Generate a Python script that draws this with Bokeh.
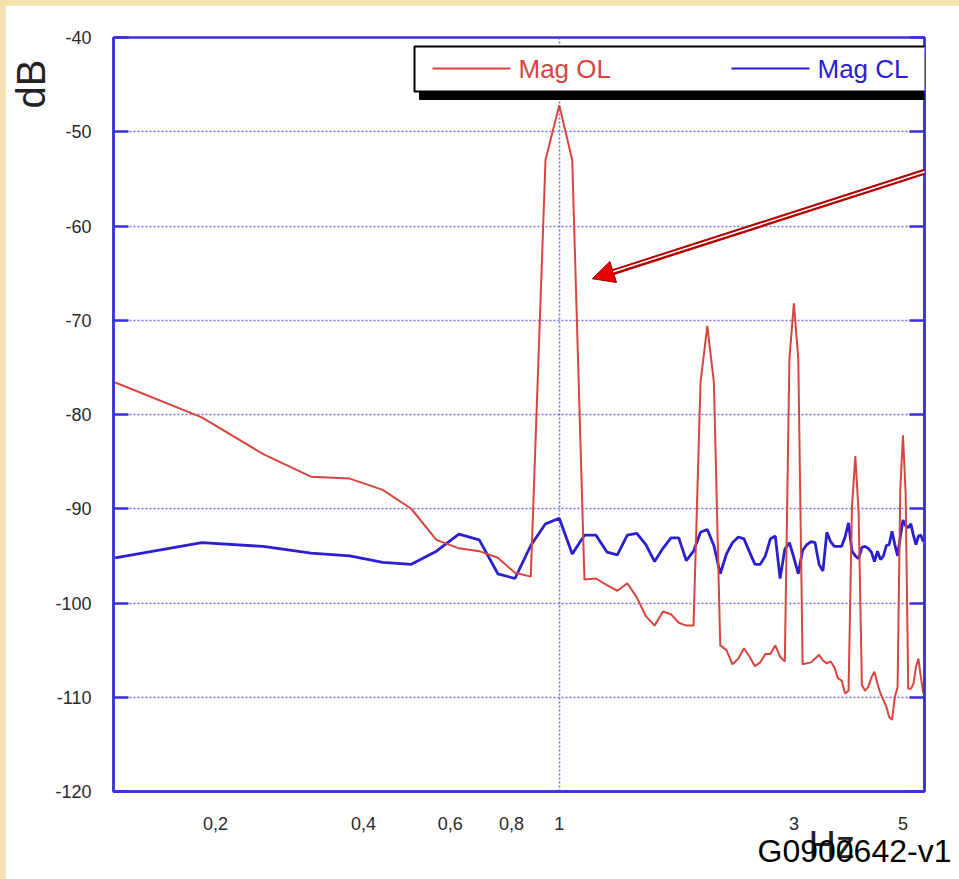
from bokeh.plotting import figure
from bokeh.models import (Range1d, FixedTicker, LinearAxis, CustomJSTickFormatter,
                          Label, BoxAnnotation, Arrow, NormalHead, Title)
from bokeh.embed import file_html
from bokeh.resources import INLINE

# ---------------- data ----------------
freq_hz = [0.125, 0.1875, 0.25, 0.3125, 0.375, 0.4375, 0.5, 0.5625, 0.625, 0.6875,
           0.75, 0.8125, 0.875, 0.9375, 1.0, 1.0625, 1.125, 1.1875, 1.25, 1.3125,
           1.375, 1.4375, 1.5, 1.5625, 1.625, 1.6875, 1.75, 1.8125, 1.875, 1.9375,
           2.0, 2.0625, 2.125, 2.1875, 2.25, 2.3125, 2.375, 2.4375, 2.5, 2.5625,
           2.625, 2.6875, 2.75, 2.8125, 2.875, 2.9375, 3.0, 3.0625, 3.125, 3.1875,
           3.25, 3.3125, 3.375, 3.4375, 3.5, 3.5625, 3.625, 3.6875, 3.75, 3.8125,
           3.875, 3.9375, 4.0, 4.0625, 4.125, 4.1875, 4.25, 4.3125, 4.375, 4.4375,
           4.5, 4.5625, 4.625, 4.6875, 4.75, 4.8125, 4.875, 4.9375, 5.0, 5.0625,
           5.125, 5.1875, 5.25, 5.3125, 5.375, 5.4375, 5.5]

mag_ol_db = [-76.6, -80.3, -84.2, -86.6, -86.8, -88.0, -90.0, -93.3, -94.2, -94.5,
             -95.2, -96.8, -97.2, -53.0, -47.2, -53.0, -97.5, -97.4, -98.1, -98.7,
             -97.9, -99.4, -101.4, -102.4, -100.9, -101.2, -102.1, -102.4, -102.4, -76.6,
             -70.6, -76.6, -104.5, -105.0, -106.5, -105.9, -104.8, -105.7, -106.7, -106.3,
             -105.4, -105.4, -104.5, -105.7, -106.2, -74.1, -68.2, -74.1, -106.5, -106.4,
             -106.3, -105.9, -105.5, -106.1, -106.4, -106.2, -106.8, -108.0, -108.2, -109.6,
             -109.3, -89.8, -84.4, -90.5, -108.7, -109.3, -108.9, -107.9, -107.3, -108.6,
             -109.6, -110.3, -111.0, -112.1, -112.4, -110.0, -108.9, -87.9, -82.2, -88.4,
             -109.1, -109.1, -108.6, -106.8, -105.9, -107.9, -109.6]

mag_cl_db = [-95.2, -93.6, -94.0, -94.7, -95.0, -95.7, -95.9, -94.5, -92.7, -93.3,
             -96.9, -97.4, -93.9, -91.6, -91.0, -94.8, -92.8, -92.8, -94.6, -94.9,
             -92.8, -92.6, -93.8, -95.6, -94.2, -93.1, -93.1, -95.5, -94.5, -92.5,
             -92.2, -93.9, -96.9, -94.8, -93.6, -93.0, -93.2, -94.6, -95.9, -95.9,
             -95.0, -93.2, -92.9, -97.4, -94.3, -93.6, -95.2, -96.9, -94.4, -93.8,
             -93.5, -93.6, -95.9, -96.6, -92.5, -93.5, -94.0, -94.0, -94.0, -93.0,
             -91.5, -94.5, -95.0, -95.3, -94.1, -94.0, -94.2, -94.6, -95.6, -94.5,
             -95.4, -95.0, -93.9, -93.8, -92.4, -93.8, -95.0, -93.0, -91.2, -91.8,
             -92.0, -91.6, -92.8, -93.8, -92.9, -92.8, -93.5]

series_names = ["Mag OL", "Mag CL"]
x_ticks = [0.2, 0.4, 0.6, 0.8, 1, 3, 5]
y_ticks = [-40, -50, -60, -70, -80, -90, -100, -110, -120]
x_label = "Hz"
y_label = "dB"
doc_id = "G0900642-v1"

# ---------------- styling ----------------
RED = "#d8443e"
BLUE = "#2a20d0"
AXIS_BLUE = "#3b30dc"
GRID_BLUE = "#5c5cf0"
FONT = "Liberation Sans"

W, H = 954, 874
p = figure(width=W, height=H, x_axis_type="log",
           x_range=Range1d(0.124, 5.53), y_range=Range1d(-120, -40),
           output_backend="svg", toolbar_location=None,
           min_border_left=108, min_border_right=35,
           min_border_top=32, min_border_bottom=88)
p.background_fill_color = "white"
p.border_fill_color = "white"
p.outline_line_color = AXIS_BLUE
p.outline_line_width = 2.5

# x axis
xa = p.xaxis[0]
xa.ticker = FixedTicker(ticks=x_ticks)
xa.formatter = CustomJSTickFormatter(code="return String(tick).replace('.', ',');")
xa.major_tick_line_color = None
xa.minor_tick_line_color = None
xa.axis_line_color = AXIS_BLUE
xa.axis_line_width = 2.5
xa.major_label_text_font = FONT
xa.major_label_text_font_size = "18px"
xa.major_label_text_color = "#2a2a2a"
xa.major_label_standoff = 19

# y axis (left)
ya = p.yaxis[0]
ya.ticker = FixedTicker(ticks=y_ticks)
ya.formatter = CustomJSTickFormatter(code="return String(tick);")
ya.major_tick_in = 15
ya.major_tick_out = 0
ya.major_tick_line_color = AXIS_BLUE
ya.major_tick_line_width = 2.5
ya.minor_tick_line_color = None
ya.axis_line_color = AXIS_BLUE
ya.axis_line_width = 2.5
ya.major_label_text_font = FONT
ya.major_label_text_font_size = "18px"
ya.major_label_text_color = "#2a2a2a"
ya.major_label_standoff = 22

# right axis with inward ticks, no labels
ra = LinearAxis(ticker=FixedTicker(ticks=y_ticks), major_tick_in=15, major_tick_out=0,
                major_tick_line_color=AXIS_BLUE, major_tick_line_width=2.5,
                minor_tick_line_color=None, axis_line_color=AXIS_BLUE, axis_line_width=2.5,
                formatter=CustomJSTickFormatter(code="return '';"),
                major_label_standoff=0)
p.add_layout(ra, "right")

# grids
p.xgrid.ticker = FixedTicker(ticks=[1])
p.ygrid.ticker = FixedTicker(ticks=y_ticks)
for g in (p.xgrid[0], p.ygrid[0]):
    g.grid_line_color = GRID_BLUE
    g.grid_line_width = 1.6
    g.grid_line_dash = "2 2"
    g.grid_line_alpha = 0.85

# data lines
p.line(freq_hz, mag_cl_db, line_color=BLUE, line_width=2.8)
p.line(freq_hz, mag_ol_db, line_color=RED, line_width=2.0)

# ---------------- legend (manual, with drop shadow) ----------------
def sbox(l, r, t, b, **kw):
    return BoxAnnotation(left=l, right=r, top=t, bottom=b,
                         left_units="screen", right_units="screen",
                         top_units="screen", bottom_units="screen", **kw)

p.add_layout(sbox(306, 818, 738, 692, fill_color="black", fill_alpha=1.0,
                  line_color="black", line_alpha=1.0))
p.add_layout(sbox(301, 813, 745, 700, fill_color="white", fill_alpha=1.0,
                  line_color="black", line_width=2, line_alpha=1.0))
p.add_layout(sbox(319, 397, 724, 722, fill_color=RED, fill_alpha=1.0, line_color=None))
p.add_layout(sbox(618, 696, 724, 722, fill_color=BLUE, fill_alpha=1.0, line_color=None))
p.add_layout(Label(x=405, y=723, x_units="screen", y_units="screen", text=series_names[0],
                   text_baseline="middle", text_align="left", text_font=FONT,
                   text_font_size="26px", text_color=RED))
p.add_layout(Label(x=704, y=723, x_units="screen", y_units="screen", text=series_names[1],
                   text_baseline="middle", text_align="left", text_font=FONT,
                   text_font_size="26px", text_color=BLUE))

# ---------------- arrow pointing to the 1 Hz peak ----------------
p.add_layout(Arrow(end=NormalHead(size=22, fill_color="#e80000", line_color="#9a0000", line_width=1),
                   x_start=6.52, y_start=-53.05, x_end=1.167, y_end=-65.6,
                   line_color="#b00000", line_width=6))
p.add_layout(Arrow(end=None, x_start=6.52, y_start=-53.05, x_end=1.287, y_end=-64.86,
                   line_color="white", line_width=1.5))

# ---------------- outer texts as side-panel titles ----------------
p.add_layout(Title(text=y_label, align="right", offset=22, standoff=0,
                   text_font=FONT, text_font_size="40px", text_font_style="normal",
                   text_color="#222222"), "left")
p.add_layout(Title(text=x_label, align="left", offset=695, standoff=-22,
                   text_font=FONT, text_font_size="38px", text_font_style="normal",
                   text_color="#222222"), "below")
p.add_layout(Title(text=doc_id, align="left", vertical_align="top", offset=644, standoff=-44,
                   text_font=FONT, text_font_size="32px", text_font_style="normal",
                   text_color="black"), "below")

html = file_html(p, INLINE, title="Mag OL / Mag CL")
html = html.replace("</head>",
                    "<style>html,body{margin:0;background:#f3e2a9;}"
                    "body{padding:5px 0 0 5px;}</style></head>", 1)
with open("out.html", "w") as f:
    f.write(html)
